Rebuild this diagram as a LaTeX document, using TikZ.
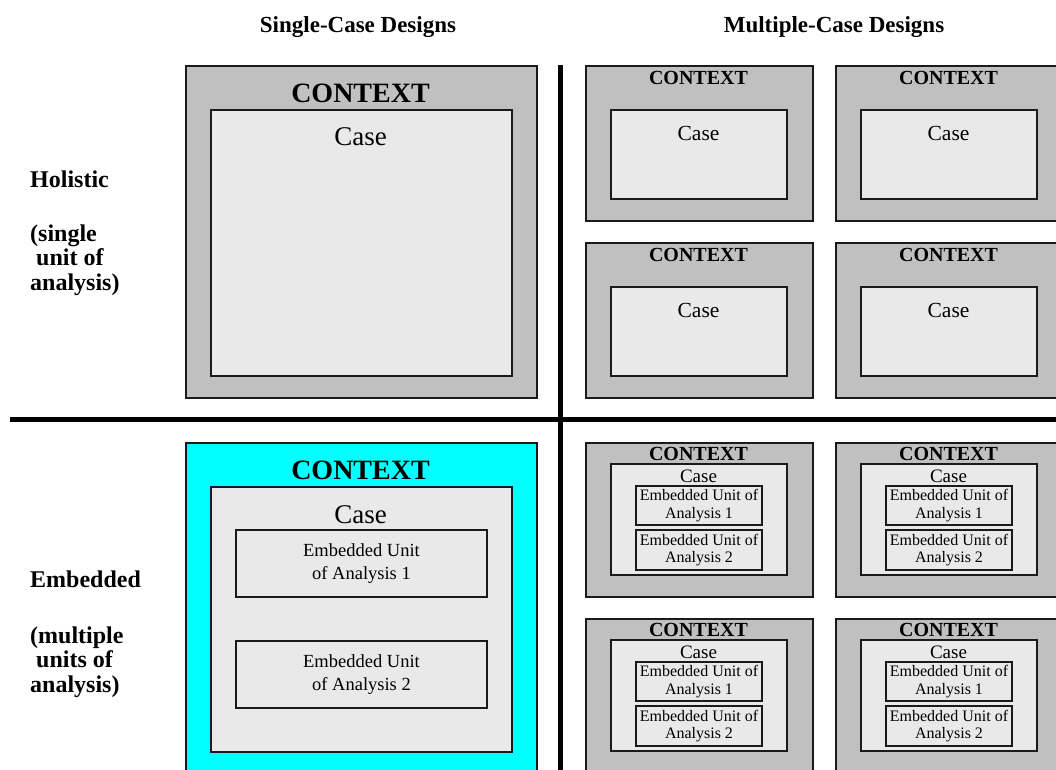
\documentclass[tikz,border=0pt]{standalone}
\usepackage{fontspec}
\setmainfont{Liberation Serif}
\definecolor{ctxgray}{HTML}{C0C0C0}
\definecolor{casegray}{HTML}{E9E9E9}
\definecolor{edgecol}{HTML}{1A1A1A}
\definecolor{ctxcyan}{HTML}{00FFFF}
\tikzset{
  frame/.style={draw=edgecol, line width=2pt, inner sep=0pt, anchor=north west},
  ctxbox/.style={frame, fill=ctxgray},
  cyanbox/.style={frame, fill=ctxcyan},
  casebox/.style={frame, fill=casegray},
  unitbox/.style={frame, fill=casegray},
  divider/.style={line width=5pt, black},
  bigctx/.style={font=\fontsize{28}{33}\selectfont\bfseries, inner sep=0pt},
  bigcase/.style={font=\fontsize{27}{32}\selectfont, inner sep=0pt},
  bigunit/.style={font=\fontsize{18.5}{23}\selectfont, align=center, inner sep=0pt},
  smallctx/.style={font=\fontsize{20}{24}\selectfont\bfseries, inner sep=0pt},
  holicase/.style={font=\fontsize{21.5}{26}\selectfont, inner sep=0pt},
  embcase/.style={font=\fontsize{19}{23}\selectfont, inner sep=0pt},
  smallunit/.style={font=\fontsize{16}{17.6}\selectfont, align=center, inner sep=0pt},
  header/.style={font=\fontsize{23}{27}\selectfont\bfseries, inner sep=0pt, anchor=base},
  rowlabel/.style={font=\fontsize{24}{24.5}\selectfont\bfseries, align=left, inner sep=0pt, anchor=north west},
}
% holistic cell of the multiple-case column: #1 suffix, #2 left, #3 top
\newcommand\holicell[3]{%
  \node[ctxbox, minimum width=227pt, minimum height=155pt] (ctx#1) at (#2,#3) {};
  \node[casebox, minimum width=176pt, minimum height=89pt] (case#1) at ({#2+25},{#3+44}) {};
  \node[smallctx] (ctxlab#1) at ({#2+113.5},{#3+13}) {CONTEXT};
  \node[holicase] (caselab#1) at ({#2+113.5},{#3+68}) {Case};
}
% embedded cell of the multiple-case column: #1 suffix, #2 left, #3 top, #4 height
\newcommand\embcell[4]{%
  \node[ctxbox, minimum width=227pt, minimum height=#4pt] (ctx#1) at (#2,#3) {};
  \node[casebox, minimum width=176pt, minimum height=111pt] (case#1) at ({#2+25},{#3+21}) {};
  \node[unitbox, minimum width=126pt, minimum height=39pt] (unita#1) at ({#2+50},{#3+43}) {};
  \node[unitbox, minimum width=126pt, minimum height=40pt] (unitb#1) at ({#2+50},{#3+87}) {};
  \node[smallctx] (ctxlab#1) at ({#2+113.5},{#3+12}) {CONTEXT};
  \node[embcase] (caselab#1) at ({#2+113.5},{#3+34}) {Case};
  \node[smallunit] (unitalab#1) at (unita#1.center) {Embedded Unit of\\Analysis 1};
  \node[smallunit] (unitblab#1) at (unitb#1.center) {Embedded Unit of\\Analysis 2};
}
\begin{document}
\begin{tikzpicture}[x=1pt, y=-1pt]
\useasboundingbox (0,0) rectangle (1056,769);
\clip (0,0) rectangle (1056,769);

% column headings
\node[header] (hsingle) at (358,32) {Single-Case Designs};
\node[header] (hmulti) at (834,32) {Multiple-Case Designs};

% row headings
\node[rowlabel] (rholistic) at (30,171)
  {Holistic\\[29pt](single\\\hspace*{6pt}unit of\\analysis)};
\node[rowlabel] (rembedded) at (30,571)
  {Embedded\\[31pt](multiple\\\hspace*{6pt}units of\\analysis)};

% single-case, holistic
\node[ctxbox, minimum width=351pt, minimum height=332pt] (sh) at (185,65) {};
\node[casebox, minimum width=301pt, minimum height=266pt] (shcase) at (210,109) {};
\node[bigctx] (shctx) at (360.5,93) {CONTEXT};
\node[bigcase] (shcaselab) at (360.5,137) {Case};

% single-case, embedded
\node[cyanbox, minimum width=351pt, minimum height=360pt] (se) at (185,442) {};
\node[casebox, minimum width=301pt, minimum height=265pt] (secase) at (210,486) {};
\node[unitbox, minimum width=251pt, minimum height=67pt] (seunita) at (235,529) {};
\node[unitbox, minimum width=251pt, minimum height=67pt] (seunitb) at (235,640) {};
\node[bigctx] (sectx) at (360.5,470) {CONTEXT};
\node[bigcase] (secaselab) at (360.5,515) {Case};
\node[bigunit] (seunitalab) at (seunita.center) {Embedded Unit\\of Analysis 1};
\node[bigunit] (seunitblab) at (seunitb.center) {Embedded Unit\\of Analysis 2};

% multiple-case, holistic
\holicell{ma}{585}{65}
\holicell{mb}{835}{65}
\holicell{mc}{585}{242}
\holicell{md}{835}{242}

% multiple-case, embedded
\embcell{me}{585}{442}{154}
\embcell{mf}{835}{442}{154}
\embcell{mg}{585}{618}{200}
\embcell{mh}{835}{618}{200}

% dividing cross
\coordinate (vtop) at (560,65);
\coordinate (vbot) at (560,772);
\coordinate (hleft) at (10,419);
\coordinate (hright) at (1060,419);
\draw[divider] (vtop) -- (vbot);
\draw[divider] (hleft) -- (hright);
\end{tikzpicture}
\end{document}
